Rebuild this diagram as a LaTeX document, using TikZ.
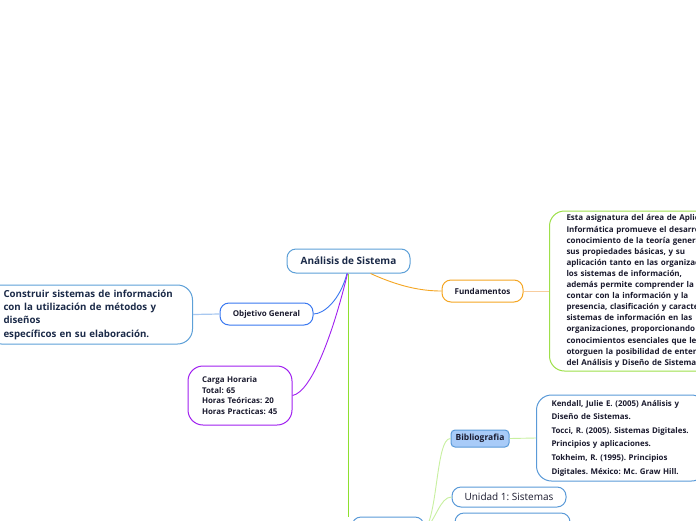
\documentclass[tikz,border=0pt]{standalone}
\usepackage{fontspec}
\setmainfont{Open Sans}
\usetikzlibrary{calc}
\frenchspacing
\definecolor{navy}{HTML}{1B2A48}
\definecolor{txt}{HTML}{1A1A2E}
\definecolor{rootb}{HTML}{5DA0D8}
\definecolor{orangeb}{HTML}{F5A623}
\definecolor{orangel}{HTML}{F8CD9E}
\definecolor{greenb}{HTML}{9EE04A}
\definecolor{greenl}{HTML}{C8F0A0}
\definecolor{trunk}{HTML}{8EE02E}
\definecolor{blueb}{HTML}{3A78F0}
\definecolor{bluel}{HTML}{A8C8F0}
\definecolor{purpleb}{HTML}{A020F0}
\definecolor{bibfill}{HTML}{A8CBF8}
\definecolor{boxb}{HTML}{5A9AD8}
\tikzset{
  topic/.style={draw, rounded corners=9pt, line width=1pt, inner sep=0pt, align=center, text=txt},
  bigbox/.style={draw, rounded corners=15pt, line width=1pt, inner ysep=0pt, align=left, text=txt},
  conn/.style={line width=0.9pt}
}
\begin{document}
\begin{tikzpicture}[x=1pt,y=-1pt]
\useasboundingbox[fill=white] (0,0) rectangle (696,520);

% main topic
\node[topic, draw=rootb, text=navy, minimum width=123pt, minimum height=24pt,
  font=\fontsize{10}{12}\selectfont\bfseries] (root) at (348.5,261) {Análisis de Sistema};

% Fundamentos
\node[topic, draw=orangeb, minimum width=81pt, minimum height=22pt,
  font=\fontsize{8.1}{9}\selectfont\bfseries] (fund) at (482.5,291) {Fundamentos};
\node[bigbox, draw=greenb, anchor=west, text width=160pt, inner xsep=17pt, minimum height=160pt,
  font=\fontsize{8}{11.1}\selectfont\bfseries] (fundtxt) at (549,291) {Esta asignatura del área de Aplic\\
Informática promueve el desarro\\
conocimiento de la teoría genera\\
sus propiedades básicas, y su\\
aplicación tanto en las organizac\\
los sistemas de información,\\
además permite comprender la i\\
contar con la información y la\\
presencia, clasificación y caracte\\
sistemas de información en las\\
organizaciones, proporcionando\\
conocimientos esenciales que le\\
otorguen la posibilidad de enten\\
del Análisis y Diseño de Sistemas};

% Objetivo General
\node[topic, draw=blueb, minimum width=93pt, minimum height=22pt,
  font=\fontsize{8}{9}\selectfont\bfseries] (obj) at (266.5,314) {Objetivo General};
\node[bigbox, draw=rootb, text=navy, anchor=east, text width=172pt, inner xsep=17pt, minimum height=59pt,
  font=\fontsize{9.7}{13.3}\selectfont\bfseries] (objtxt) at (193,314.5) {Construir sistemas de información\\
con la utilización de métodos y\\
diseños\\
específicos en su elaboración.};

% Carga horaria
\node[bigbox, draw=purpleb, text width=76pt, inner xsep=14pt, minimum height=59pt,
  font=\fontsize{7.9}{10.7}\selectfont\bfseries] (carga) at (240,395.5) {Carga Horaria\\
Total: 65\\
Horas Teóricas: 20\\
Horas Practicas: 45};

% lower branch
\node[topic, draw=boxb, minimum width=72pt, minimum height=26pt] (unid) at (388,530) {};
\node[topic, draw=boxb, fill=bibfill, rounded corners=4pt, minimum width=58pt, minimum height=17pt,
  font=\fontsize{8.5}{10}\selectfont\bfseries] (bib) at (480,438.5) {Bibliografia};
\node[bigbox, draw=boxb, anchor=west, text width=140pt, inner xsep=15pt, minimum height=86pt,
  font=\fontsize{7.9}{13.6}\selectfont\bfseries] (bibtxt) at (536,438) {Kendall, Julie E. (2005) Análisis y\\
Diseño de Sistemas.\\
Tocci, R. (2005). Sistemas Digitales.\\
Principios y aplicaciones.\\
Tokheim, R. (1995). Principios\\
Digitales. México: Mc. Graw Hill.};
\node[topic, draw=boxb, minimum width=114pt, minimum height=20pt,
  font=\fontsize{10}{11}\selectfont] (u1) at (509,497) {Unidad 1: Sistemas};
\node[topic, draw=boxb, minimum width=115pt, minimum height=28pt] (u2) at (512.5,527) {};

% connectors
\draw[conn, blueb] ($(root.south)+(-1.5,0)$) .. controls (340,300) and (324,314) .. (obj.east);
\draw[conn, purpleb] ($(root.south)+(-1,0)$) .. controls (334,330) and (312,392) .. (carga.east);
\draw[conn, trunk, line width=1.2pt] (root.south) -- (unid.north -| root.south);
\draw[conn, orangeb] ($(root.south)+(22,0)$) .. controls (398,286) and (420,291) .. (fund.west);
\draw[conn, orangel] (fund.east) -- (fundtxt.west);
\draw[conn, bluel, line width=1.2pt] (obj.west) -- (objtxt.east);
\draw[conn, greenl] (bib.east) -- (bibtxt.west);
\draw[conn, greenl] (unid.east) .. controls (438,515) and (436,438) .. (bib.west);
\draw[conn, greenl] (unid.east) .. controls (436,520) and (440,497) .. (u1.west);
\draw[conn, greenl] (unid.east) .. controls (438,528) and (446,527) .. (u2.west);
\end{tikzpicture}
\end{document}
